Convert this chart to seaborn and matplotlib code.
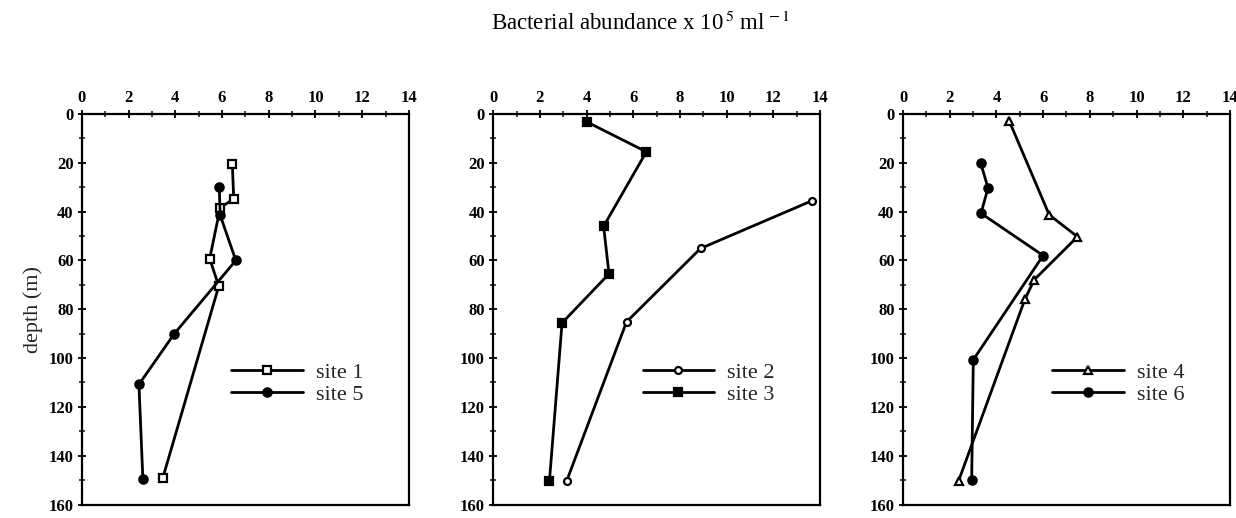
import numpy as np
import pandas as pd
import matplotlib
matplotlib.use("Agg")
import matplotlib.pyplot as plt
import seaborn as sns
from matplotlib.ticker import MultipleLocator

# ---- data ----
site1_x = [6.44, 6.5, 5.92, 5.47, 5.86, 3.46]
site1_d = [20.7, 34.7, 38.5, 59.3, 70.5, 149.2]
site5_x = [5.88, 5.92, 6.59, 3.95, 2.44, 2.61]
site5_d = [30.0, 41.5, 60.0, 90.1, 110.8, 149.7]

site2_x = [13.64, 8.88, 5.71, 3.15]
site2_d = [35.6, 55.1, 85.2, 150.3]
site3_x = [4.0, 6.56, 4.73, 4.96, 2.95, 2.41]
site3_d = [3.2, 15.5, 46.0, 65.5, 85.6, 150.3]

site4_x = [4.54, 6.26, 7.47, 5.62, 5.22, 2.38]
site4_d = [2.7, 41.3, 50.3, 67.9, 75.9, 150.3]
site6_x = [3.32, 3.64, 3.34, 6.0, 3.01, 2.94]
site6_d = [19.9, 30.3, 40.7, 58.0, 100.7, 150.0]

x_ticks = [0, 2, 4, 6, 8, 10, 12, 14]
y_ticks = [0, 20, 40, 60, 80, 100, 120, 140, 160]

sns.set_theme(style="white")
plt.rcParams['font.family'] = ['Liberation Serif', 'DejaVu Serif']
plt.rcParams['mathtext.fontset'] = 'stix'

fig = plt.figure(figsize=(12.36, 5.18), dpi=100)
lefts = [0.0663, 0.399, 0.7306]
w, b, h = 0.2645, 0.026, 0.754
axes = [fig.add_axes([l, b, w, h]) for l in lefts]

panels = [
    [("site 1", site1_x, site1_d, 's', 'white', 6), ("site 5", site5_x, site5_d, 'o', 'black', 6)],
    [("site 2", site2_x, site2_d, 'o', 'white', 5), ("site 3", site3_x, site3_d, 's', 'black', 6)],
    [("site 4", site4_x, site4_d, '^', 'white', 6), ("site 6", site6_x, site6_d, 'o', 'black', 6)],
]

for ax, series in zip(axes, panels):
    for name, xs, ds, mk, fc, ms in series:
        df = pd.DataFrame({"x": xs, "d": ds})
        sns.lineplot(data=df, x="x", y="d", sort=False, estimator=None, ax=ax,
                     color='black', lw=2, marker=mk, markersize=ms,
                     markerfacecolor=fc, markeredgecolor='black', markeredgewidth=1.6,
                     label=name)
    ax.set_xlim(0, 14)
    ax.set_ylim(160, 0)
    ax.set_xticks(x_ticks)
    ax.set_yticks(y_ticks)
    ax.xaxis.set_minor_locator(MultipleLocator(1))
    ax.yaxis.set_minor_locator(MultipleLocator(10))
    ax.xaxis.tick_top()
    ax.xaxis.set_label_position('top')
    ax.tick_params(axis='both', which='major', direction='inout', length=6, width=1.3,
                   labelsize=12, colors='black', pad=3)
    ax.tick_params(axis='both', which='minor', direction='inout', length=4, width=1.2)
    ax.tick_params(axis='y', which='both', left=True, right=False)
    ax.tick_params(axis='x', which='both', top=True, bottom=False)
    for lab in ax.get_xticklabels() + ax.get_yticklabels():
        lab.set_fontweight('bold')
    for sp in ax.spines.values():
        sp.set_color('black')
        sp.set_linewidth(1.6)
    ax.set_xlabel('')
    ax.set_ylabel('')
    ax.legend(loc='center left', bbox_to_anchor=(0.43, 0.31), frameon=False,
              fontsize=16, handlelength=3.2, handletextpad=0.6, labelspacing=0.05,
              borderaxespad=0)

axes[0].set_ylabel('depth (m)', fontsize=16, labelpad=4)
fig.text(0.518, 0.955, r'Bacterial abundance x 10$^{\,5}$ ml$^{\,-1}$', ha='center', va='center',
         fontsize=16.5, color='black')

fig.savefig('out.png', dpi=100, facecolor='white')
